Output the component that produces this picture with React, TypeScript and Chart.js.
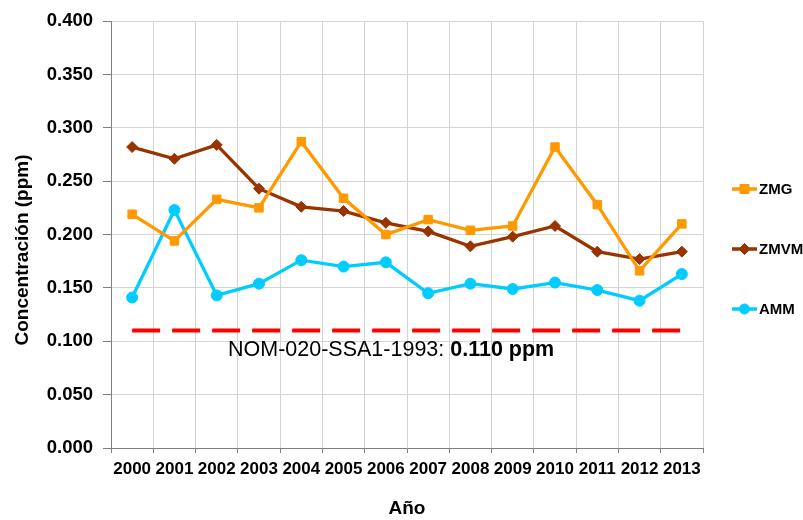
import React, { useEffect, useRef } from "react";
import { Chart, registerables } from "chart.js";

Chart.register(...registerables);

const years = ["2000", "2001", "2002", "2003", "2004", "2005", "2006", "2007", "2008", "2009", "2010", "2011", "2012", "2013"];
const zmg = [0.219, 0.194, 0.233, 0.225, 0.287, 0.234, 0.200, 0.214, 0.204, 0.208, 0.282, 0.228, 0.166, 0.210];
const zmvm = [0.282, 0.271, 0.284, 0.243, 0.226, 0.222, 0.211, 0.203, 0.189, 0.198, 0.208, 0.184, 0.177, 0.184];
const amm = [0.141, 0.223, 0.143, 0.154, 0.176, 0.170, 0.174, 0.145, 0.154, 0.149, 0.155, 0.148, 0.138, 0.163];
const norma = [0.110, 0.110, 0.110, 0.110, 0.110, 0.110, 0.110, 0.110, 0.110, 0.110, 0.110, 0.110, 0.110, 0.110];
const normaLabel = "NOM-020-SSA1-1993: ";
const normaValueLabel = "0.110 ppm";
const yTitle = "Concentración (ppm)";
const xTitle = "Año";

const FONT = "'Liberation Sans', Arial, sans-serif";

const extrasPlugin = {
  id: "extras",
  afterDraw(chart: any) {
    const ctx = chart.ctx;
    const area = chart.chartArea;
    ctx.save();
    // Y axis title
    ctx.fillStyle = "#000";
    ctx.font = `bold 19px ${FONT}`;
    ctx.textAlign = "center";
    ctx.textBaseline = "middle";
    ctx.translate(23, 250);
    ctx.rotate(-Math.PI / 2);
    ctx.fillText(yTitle, 0, 0);
    ctx.restore();

    // Annotation text
    ctx.save();
    ctx.fillStyle = "#000";
    ctx.textBaseline = "alphabetic";
    ctx.textAlign = "left";
    ctx.font = `21.5px ${FONT}`;
    const x0 = 228;
    const yBase = chart.scales.y.getPixelForValue(0.110) + 25;
    ctx.fillText(normaLabel, x0, yBase);
    const w = ctx.measureText(normaLabel).width;
    ctx.font = `bold 21.5px ${FONT}`;
    ctx.fillText(normaValueLabel, x0 + w, yBase);
    ctx.restore();

    // Legend
    const legendYs = [189, 249, 309];
    const lx0 = area.right + 29;
    const lx1 = area.right + 54;
    chart.data.datasets.slice(0, 3).forEach((ds: any, i: number) => {
      const y = legendYs[i];
      ctx.save();
      ctx.strokeStyle = ds.borderColor;
      ctx.lineWidth = 3.5;
      ctx.beginPath();
      ctx.moveTo(lx0, y);
      ctx.lineTo(lx1, y);
      ctx.stroke();
      ctx.fillStyle = ds.borderColor;
      ctx.strokeStyle = ds.borderColor;
      ctx.lineWidth = 1;
      const cx = (lx0 + lx1) / 2;
      ctx.beginPath();
      if (ds.pointStyle === "rect") {
        ctx.rect(cx - 4.5, y - 4.5, 9, 9);
      } else if (ds.pointStyle === "rectRot") {
        ctx.moveTo(cx, y - 5.5);
        ctx.lineTo(cx + 5.5, y);
        ctx.lineTo(cx, y + 5.5);
        ctx.lineTo(cx - 5.5, y);
        ctx.closePath();
      } else {
        ctx.arc(cx, y, 5, 0, Math.PI * 2);
      }
      ctx.fill();
      ctx.stroke();
      ctx.fillStyle = "#000";
      ctx.font = `bold 15px ${FONT}`;
      ctx.textAlign = "left";
      ctx.textBaseline = "middle";
      ctx.fillText(ds.label, lx1 + 2, y + 1);
      ctx.restore();
    });
  },
};

export default function App() {
  const ref = useRef<HTMLCanvasElement>(null);
  useEffect(() => {
    if (!ref.current) return;
    const chart = new Chart(ref.current, {
      type: "line",
      data: {
        labels: years,
        datasets: [
          {
            label: "ZMG",
            data: zmg,
            borderColor: "#FF9900",
            backgroundColor: "#FF9900",
            borderWidth: 3.3,
            pointStyle: "rect",
            pointRadius: 6,
            pointBorderWidth: 1,
            tension: 0,
          },
          {
            label: "ZMVM",
            data: zmvm,
            borderColor: "#993300",
            backgroundColor: "#993300",
            borderWidth: 3.3,
            pointStyle: "rectRot",
            pointRadius: 5.5,
            pointBorderWidth: 1,
            tension: 0,
          },
          {
            label: "AMM",
            data: amm,
            borderColor: "#00CCFF",
            backgroundColor: "#00CCFF",
            borderWidth: 3.3,
            pointStyle: "circle",
            pointRadius: 5.5,
            pointBorderWidth: 1,
            tension: 0,
          },
          {
            label: "NOM",
            data: norma,
            borderColor: "#FF0000",
            backgroundColor: "#FF0000",
            borderWidth: 4,
            borderDash: [28, 12],
            pointRadius: 0,
            tension: 0,
          },
        ],
      },
      options: {
        responsive: false,
        animation: false,
        layout: { padding: { left: 0, right: 100, top: 14, bottom: 0 } },
        plugins: {
          legend: { display: false },
          tooltip: { enabled: false },
        },
        scales: {
          x: {
            offset: true,
            grid: {
              offset: true,
              color: "#d4d4d4",
              tickColor: "#7f7f7f",
              tickLength: 5,
            },
            border: { color: "#7f7f7f", width: 1 },
            ticks: {
              autoSkip: false,
              maxRotation: 0,
              padding: 6,
              color: "#000",
              font: { family: FONT, size: 17, weight: "bold" },
            },
            title: {
              display: true,
              text: xTitle,
              color: "#000",
              padding: { top: 0, bottom: 0 },
              font: { family: FONT, size: 19, weight: "bold" },
            },
            afterFit(scale: any) {
              scale.height = 72;
            },
          },
          y: {
            min: 0,
            max: 0.4,
            ticks: {
              stepSize: 0.05,
              padding: 10,
              color: "#000",
              font: { family: FONT, size: 18.5, weight: "bold" },
              callback: (v: any) => Number(v).toFixed(3),
            },
            grid: {
              color: "#d4d4d4",
              tickColor: "#7f7f7f",
              tickLength: 8,
            },
            border: { color: "#7f7f7f", width: 1 },
            afterFit(scale: any) {
              scale.width = 111;
            },
          },
        },
      },
      plugins: [extrasPlugin],
    });
    return () => chart.destroy();
  }, []);
  return (
    <div style={{ position: "fixed", left: 0, top: 0, width: 803, height: 520, background: "#fff" }}>
      <canvas ref={ref} width={803} height={520} style={{ width: 803, height: 520 }} />
    </div>
  );
}
